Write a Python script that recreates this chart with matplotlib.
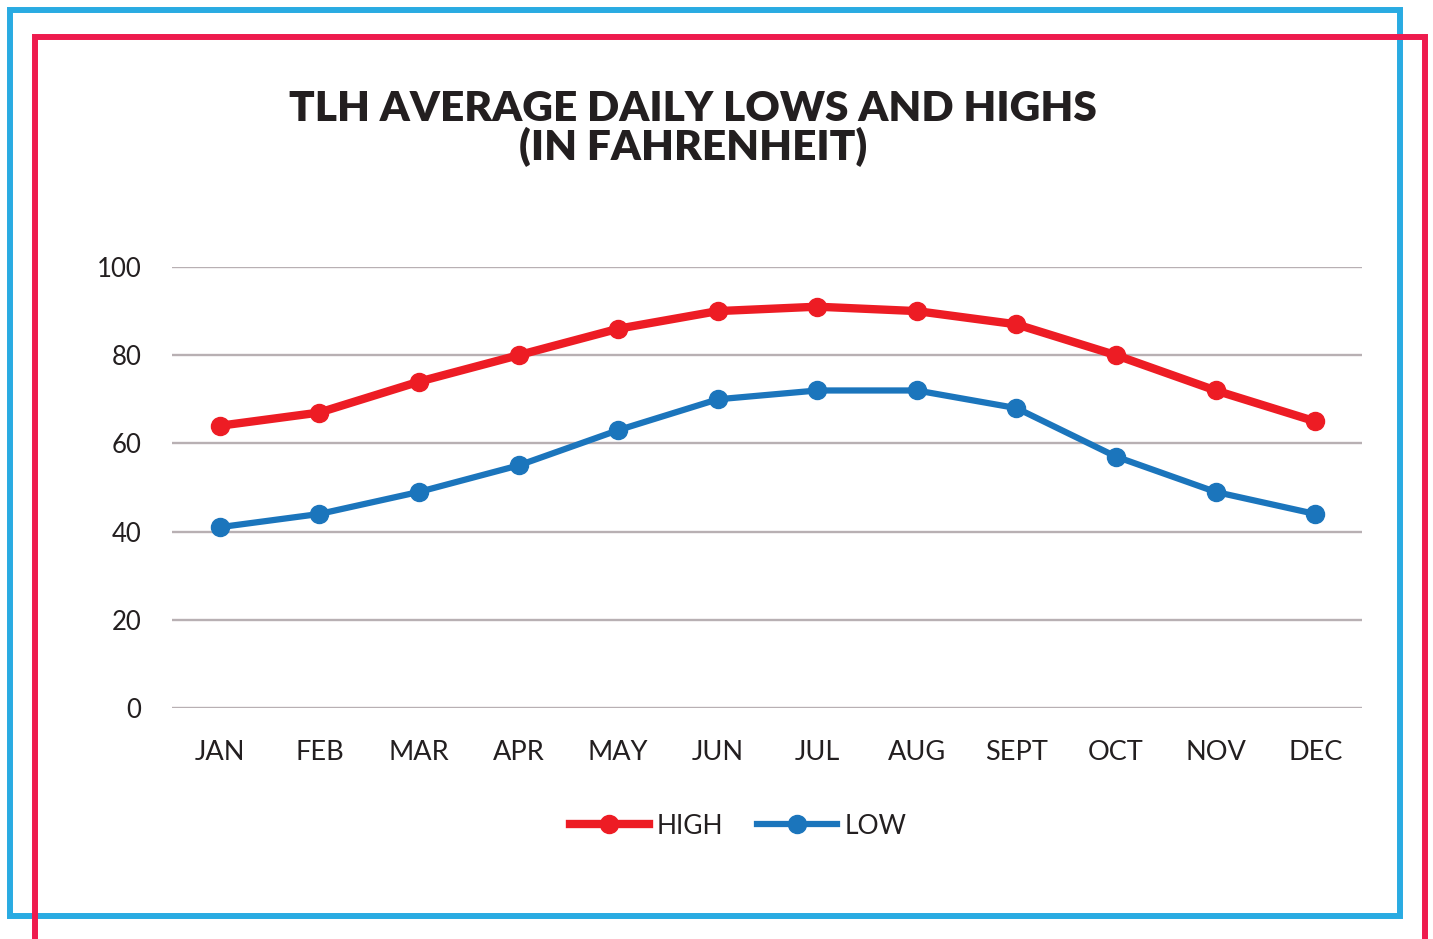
import matplotlib.pyplot as plt
from matplotlib.patches import Rectangle
from matplotlib.lines import Line2D

months = ['JAN', 'FEB', 'MAR', 'APR', 'MAY', 'JUN', 'JUL', 'AUG', 'SEPT', 'OCT', 'NOV', 'DEC']
highs = [64, 67, 74, 80, 86, 90, 91, 90, 87, 80, 72, 65]
lows = [41, 44, 49, 55, 63, 70, 72, 72, 68, 57, 49, 44]
yticks = [0, 20, 40, 60, 80, 100]

RED = '#ED1C24'
BLUE = '#1B75BC'


def main():
    plt.rcParams['font.family'] = ['Lato', 'DejaVu Sans']
    fig = plt.figure(figsize=(14.33, 9.39), dpi=100)
    W, H = 1433, 939

    # frames (pixel coords -> figure fraction)
    def frame(x0, y0, x1, y1, color):
        fig.patches.append(Rectangle((x0 / W, 1 - y1 / H), (x1 - x0) / W, (y1 - y0) / H,
                                     transform=fig.transFigure, fill=False,
                                     edgecolor=color, linewidth=4.3, zorder=0))
    frame(10, 10, 1400, 916, '#29ABE2')
    frame(35, 37, 1425, 980, '#EE1B4E')

    ax = fig.add_axes([172 / W, 1 - 708 / H, 1190 / W, 441 / H])
    x = list(range(len(months)))
    ax.plot(x, highs, color=RED, lw=6, marker='o', ms=13, label='HIGH', zorder=3)
    ax.plot(x, lows, color=BLUE, lw=4.5, marker='o', ms=13, label='LOW', zorder=3)

    ax.set_xlim(-0.48, 11.47)
    ax.set_ylim(0, 100)
    ax.set_yticks(yticks)
    ax.set_yticklabels([str(t) for t in yticks])
    ax.set_xticks(x)
    ax.set_xticklabels(months)
    ax.grid(axis='y', color='#B8B0B3', lw=1.7)
    ax.set_axisbelow(True)
    for s in ax.spines.values():
        s.set_visible(False)
    ax.tick_params(axis='both', length=0, labelsize=18.5, colors='#231F20')
    ax.tick_params(axis='x', labelsize=19.5, pad=23)
    ax.tick_params(axis='y', pad=22)

    fig.text(693 / W, 1 - 109 / H, 'TLH AVERAGE DAILY LOWS AND HIGHS',
             ha='center', va='center', fontsize=30.5, fontweight='heavy', color='#231F20')
    fig.text(693 / W, 1 - 147 / H, '(IN FAHRENHEIT)',
             ha='center', va='center', fontsize=30.5, fontweight='heavy', color='#231F20')

    handles = [Line2D([], [], color=RED, lw=6, marker='o', ms=13),
               Line2D([], [], color=BLUE, lw=4.5, marker='o', ms=13)]
    fig.legend(handles, ['HIGH', 'LOW'], loc='center', bbox_to_anchor=(738 / W, 1 - 826 / H),
               ncol=2, frameon=False, fontsize=19, handlelength=3.0, handletextpad=0.3,
               columnspacing=1.3, labelcolor='#231F20')

    fig.savefig('out.png', dpi=100, facecolor='white')


if __name__ == '__main__':
    main()
